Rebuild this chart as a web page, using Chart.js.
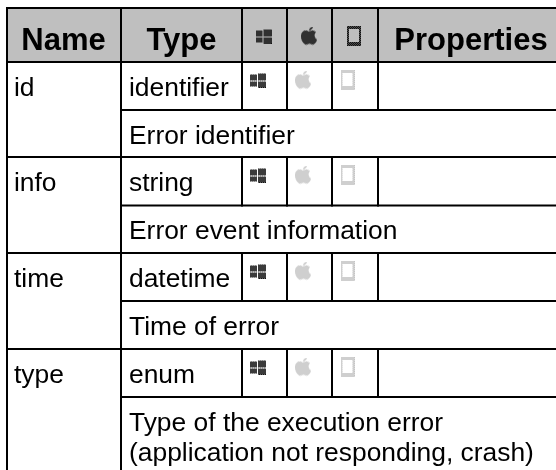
<!DOCTYPE html>
<html>
<head>
<meta charset="utf-8">
<style>
  html, body { margin: 0; padding: 0; background: #fff; }
  canvas { display: block; }
</style>
<script src="https://cdn.jsdelivr.net/npm/chart.js@4"></script>
</head>
<body>
<canvas id="tableCanvas" width="556" height="470"></canvas>
<script>
// table content
const headers = ["Name", "Type", "", "", "", "Properties"];
const names = ["id", "info", "time", "type"];
const types = ["identifier", "string", "datetime", "enum"];
const descriptions = [
  ["Error identifier"],
  ["Error event information"],
  ["Time of error"],
  ["Type of the execution error", "(application not responding, crash)"],
];
// 1 = supported, 0 = greyed out: windows, apple, phone
const support = [
  [1, 0, 0],
  [1, 0, 0],
  [1, 0, 0],
  [1, 0, 0],
];

// layout in the pixel units of both scales
const colEdges = [7, 121, 242, 287, 332, 378, 556];
const rowEdges = [8, 62, 110, 157, 205.5, 253, 301, 349, 397, 470];

// small dithered icon sprites, used as point styles
function sprite(w, h, color, draw) {
  const c = document.createElement("canvas");
  c.width = w;
  c.height = h;
  const g = c.getContext("2d");
  g.fillStyle = color;
  draw(g);
  // knock out a fine dither so it looks like the scaled-up bitmap
  g.globalCompositeOperation = "destination-out";
  g.fillStyle = "rgba(0,0,0,0.35)";
  for (let y = 0; y < h; y++) {
    for (let x = 0; x < w; x++) {
      if ((x + y) % 2 === 0) g.fillRect(x, y, 1, 1);
    }
  }
  return c;
}
function drawWindows(g) {
  g.fillRect(0, 2, 7, 6);
  g.fillRect(8, 1, 8, 7);
  g.fillRect(0, 9, 7, 5);
  g.fillRect(8, 9, 8, 6);
}
function drawApple(g) {
  g.beginPath();
  g.moveTo(8, 5);
  g.bezierCurveTo(5, 3, 0, 4, 0, 10);
  g.bezierCurveTo(0, 15, 4, 19, 6, 18);
  g.bezierCurveTo(8, 17, 9, 17, 11, 18);
  g.bezierCurveTo(13, 19, 16, 15, 16, 13);
  g.bezierCurveTo(13, 11, 13, 7, 15, 6);
  g.bezierCurveTo(13, 3, 10, 4, 8, 5);
  g.fill();
  g.beginPath();
  g.moveTo(8, 4);
  g.quadraticCurveTo(8, 1, 12, 0);
  g.quadraticCurveTo(12, 3, 8, 4);
  g.fill();
}
function drawPhone(g) {
  g.fillRect(0, 0, 14, 20);
  g.clearRect(2, 3, 10, 13);
}
const dark = "#111111";
const faded = "#c4c4c4";
const iconDraws = [drawWindows, drawApple, drawPhone];
const iconSizes = [[16, 15], [16, 19], [14, 20]];
const headOffsets = [-1, -0.5, -1];
const bodyOffsets = [-6.5, -6.5, -7.5]; // body icons sit left of the cell centre

// icon marks: header row at cell centre, body rows near the cell top
const iconPoints = [];
const iconStyles = [];
for (let i = 0; i < 3; i++) {
  const [w, h] = iconSizes[i];
  iconPoints.push({
    x: (colEdges[i + 2] + colEdges[i + 3]) / 2 + headOffsets[i],
    y: (rowEdges[0] + rowEdges[1]) / 2 + 1,
  });
  iconStyles.push(sprite(w, h, dark, iconDraws[i]));
  names.forEach(function (n, r) {
    iconPoints.push({
      x: (colEdges[i + 2] + colEdges[i + 3]) / 2 + bodyOffsets[i],
      y: rowEdges[r * 2 + 1] + 18,
    });
    iconStyles.push(sprite(w, h, support[r][i] ? dark : faded, iconDraws[i]));
  });
}

const tablePlugin = {
  id: "tablePlugin",
  beforeDatasetsDraw(chart) {
    const ctx = chart.ctx;
    const x = chart.scales.x;
    const y = chart.scales.y;
    const px = (v) => x.getPixelForValue(v);
    const py = (v) => y.getPixelForValue(v);

    function line(x1, y1, x2, y2) {
      ctx.beginPath();
      ctx.moveTo(px(x1), py(y1));
      ctx.lineTo(px(x2), py(y2));
      ctx.stroke();
    }
    function text(str, tx, ty, font, align) {
      ctx.font = font;
      ctx.textAlign = align;
      ctx.textBaseline = "alphabetic";
      ctx.fillText(str, px(tx), py(ty));
    }

    ctx.save();
    // header background
    ctx.fillStyle = "#bfbfbf";
    ctx.fillRect(px(colEdges[0]), py(rowEdges[0]), px(556) - px(colEdges[0]), py(rowEdges[1]) - py(rowEdges[0]));

    ctx.strokeStyle = "#000";
    ctx.lineWidth = 2;
    ctx.lineCap = "square";
    // horizontal lines
    line(colEdges[0], rowEdges[0], 556, rowEdges[0]);
    line(colEdges[0], rowEdges[1], 556, rowEdges[1]);
    names.forEach(function (n, r) {
      line(colEdges[1], rowEdges[r * 2 + 2], 556, rowEdges[r * 2 + 2]);
      if (r < names.length - 1) line(colEdges[0], rowEdges[r * 2 + 3], 556, rowEdges[r * 2 + 3]);
    });
    // vertical lines
    line(colEdges[0], rowEdges[0], colEdges[0], 470);
    line(colEdges[1], rowEdges[0], colEdges[1], 470);
    for (let c = 2; c < 6; c++) {
      line(colEdges[c], rowEdges[0], colEdges[c], rowEdges[1]);
      names.forEach(function (n, r) {
        line(colEdges[c], rowEdges[r * 2 + 1], colEdges[c], rowEdges[r * 2 + 2]);
      });
    }

    // header text
    ctx.fillStyle = "#000";
    const headFont = "bold 31px 'Liberation Sans'";
    text(headers[0], 63.5, 49.5, headFont, "center");
    text(headers[1], 181.5, 49.5, headFont, "center");
    text(headers[5], 471, 49.5, headFont, "center");

    // body text
    const bodyFont = "26.4px 'Liberation Sans'";
    names.forEach(function (n, r) {
      const top = rowEdges[r * 2 + 1];
      const mid = rowEdges[r * 2 + 2];
      text(n, 14, top + 34.4, bodyFont, "left");
      text(types[r], 129, top + 34.4, bodyFont, "left");
      descriptions[r].forEach(function (d, i) {
        text(d, 129, Math.floor(mid) + 34.4 + i * 30, bodyFont, "left");
      });
    });
    ctx.restore();
  },
};

new Chart(document.getElementById("tableCanvas").getContext("2d"), {
  type: "scatter",
  data: {
    datasets: [
      {
        data: iconPoints,
        pointStyle: iconStyles,
        pointRadius: 8,
        showLine: false,
      },
    ],
  },
  options: {
    responsive: false,
    animation: false,
    layout: { padding: 0, autoPadding: false },
    plugins: {
      legend: { display: false },
      tooltip: { enabled: false },
    },
    scales: {
      x: { type: "linear", display: false, min: 0, max: 556 },
      y: { type: "linear", display: false, min: 0, max: 470, reverse: true },
    },
  },
  plugins: [tablePlugin],
});
</script>
</body>
</html>
